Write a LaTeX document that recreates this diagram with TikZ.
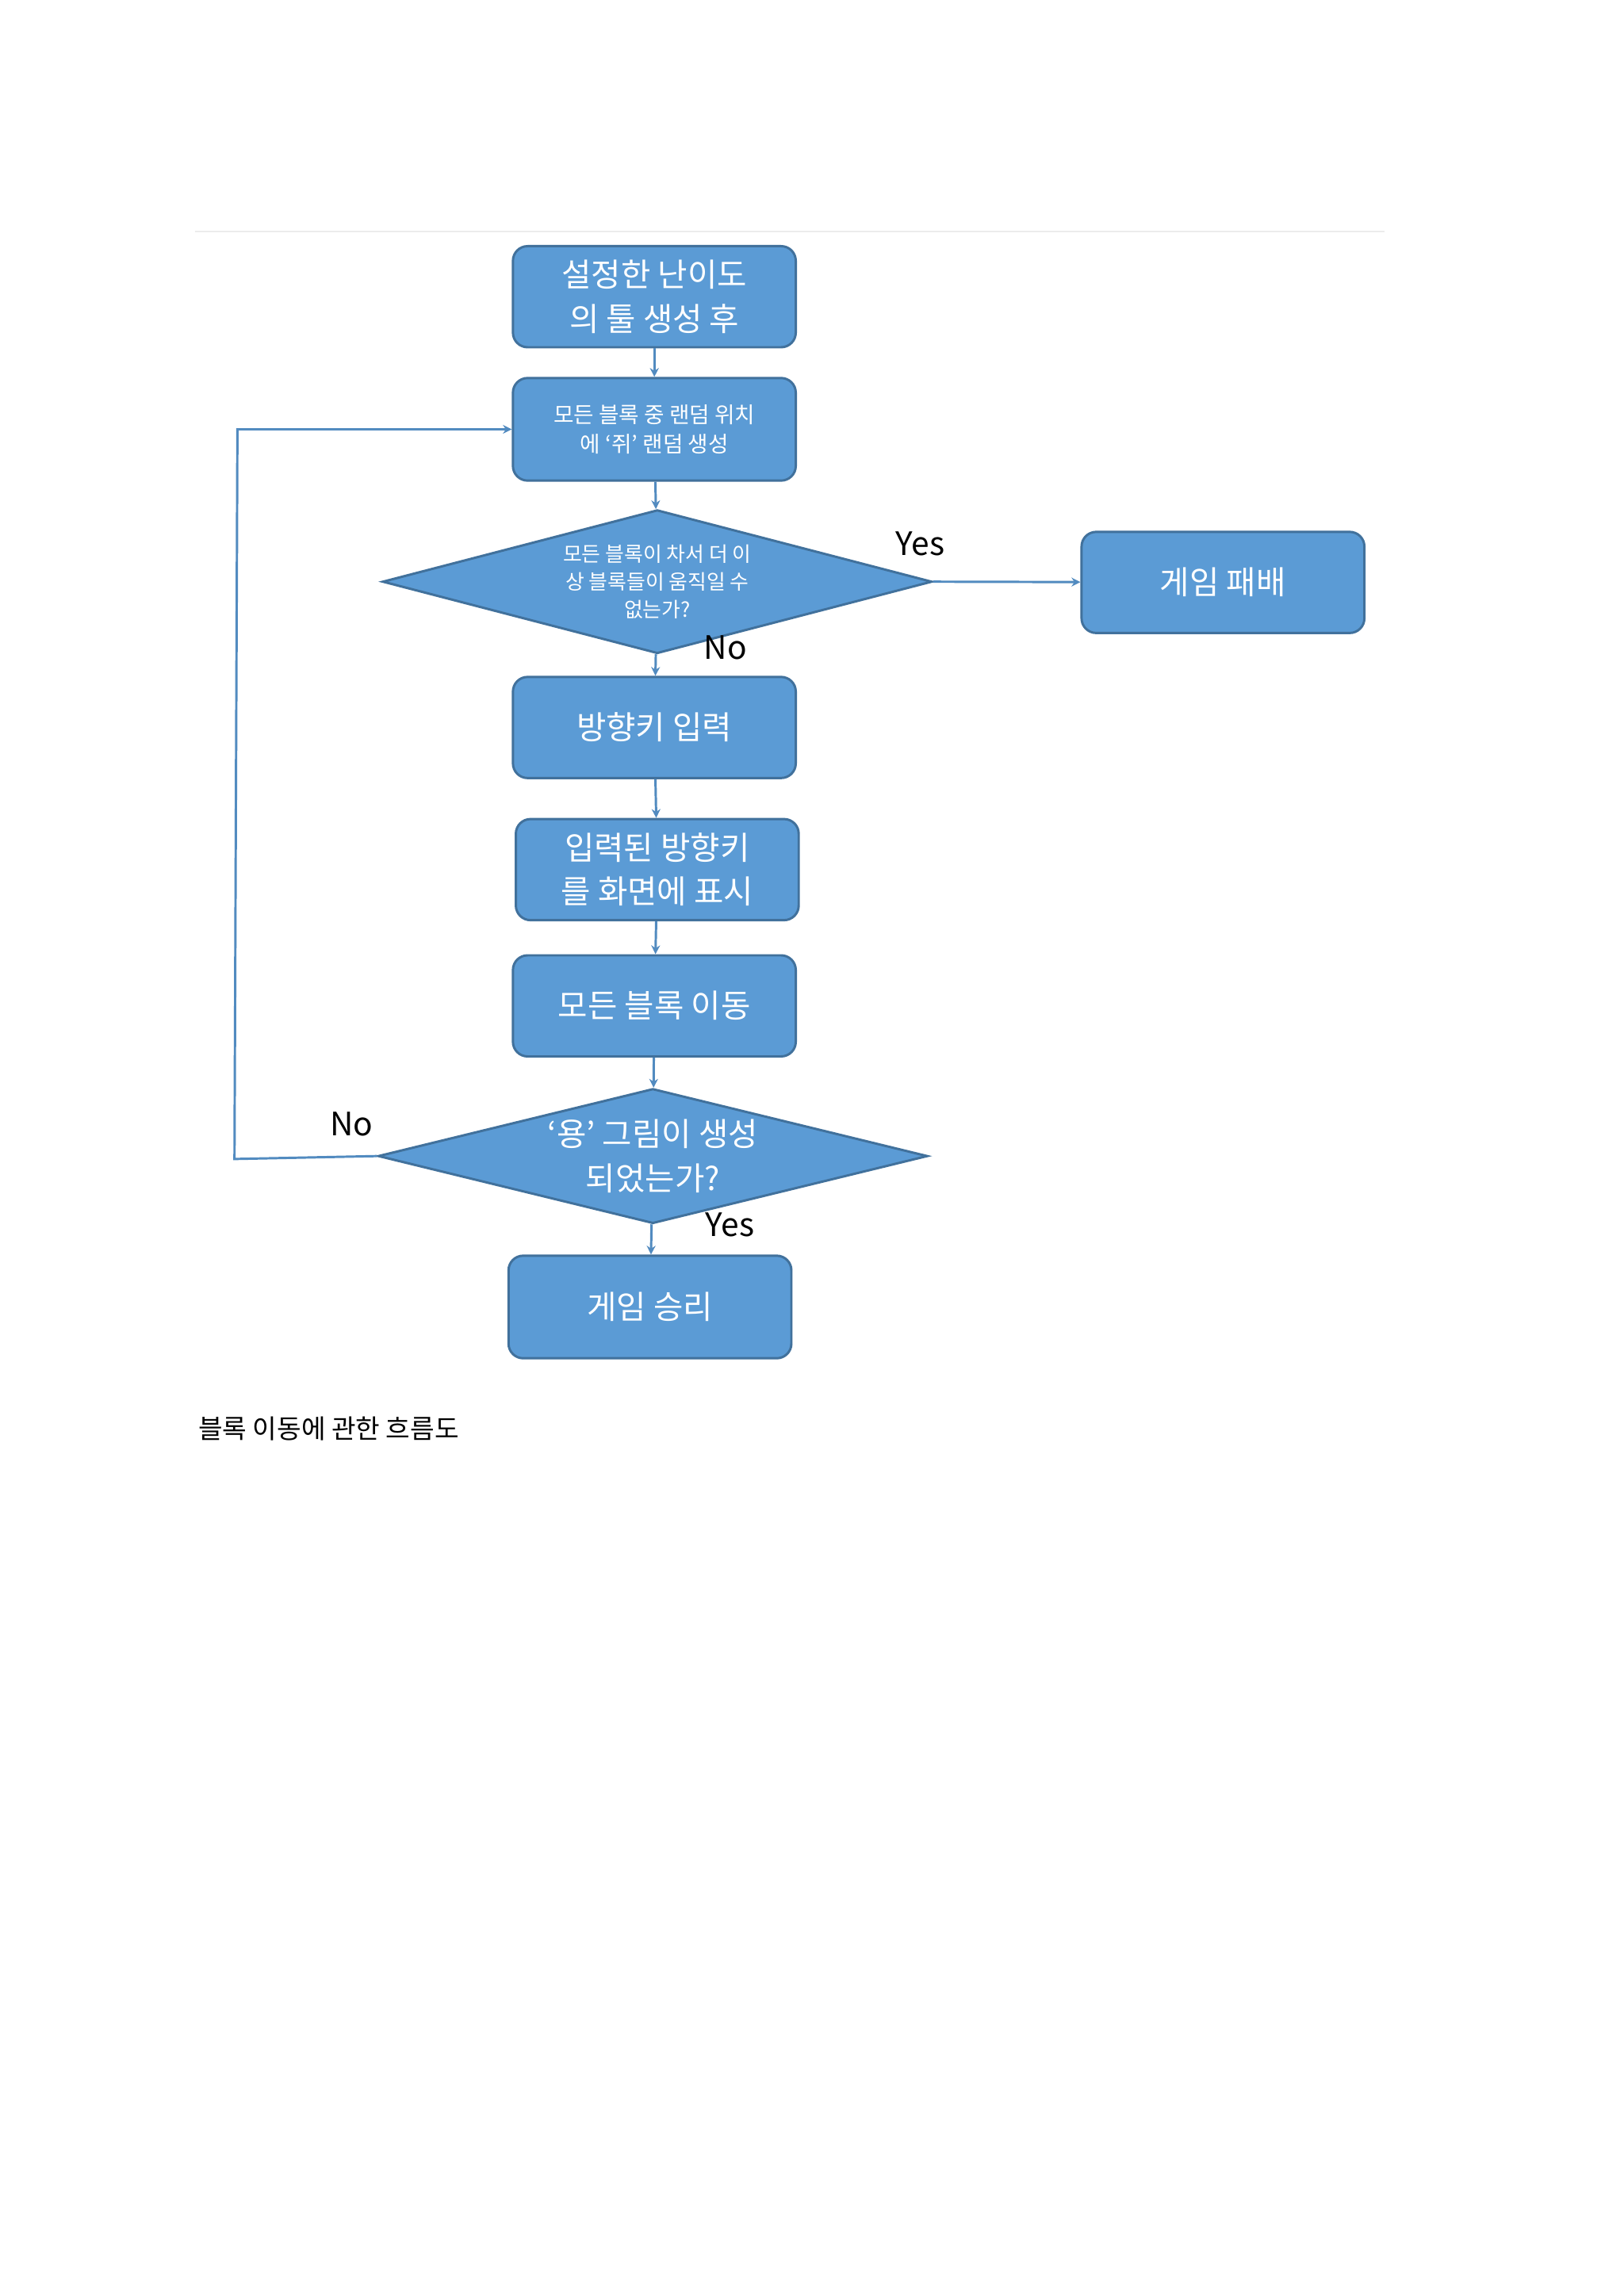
\documentclass[tikz,border=0pt]{standalone}
\usepackage{fontspec}
\setmainfont{Noto Sans CJK KR}
\usetikzlibrary{shapes.geometric,arrows.meta}
\definecolor{bfill}{HTML}{5B9BD5}
\definecolor{bline}{HTML}{41719C}
\begin{document}
\begin{tikzpicture}[x=0.5pt,y=-0.5pt,
  bx/.style={draw=bline,line width=0.8pt,fill=bfill,rounded corners=5pt,text=white,align=center,inner sep=0pt},
  dm/.style={draw=bline,line width=0.8pt,fill=bfill,text=white,align=center,inner sep=0pt},
  ar/.style={draw=bfill!90!black,line width=0.8pt,-{Stealth[length=3pt,width=3pt]}},
  lb/.style={font=\fontsize{11}{13}\selectfont,inner sep=0pt}]
\useasboundingbox (0,0) rectangle (1108,1567);
\fill[white] (0,0) rectangle (1108,1567);
\draw[gray!15,line width=0.6pt] (133,158) -- (945,158);
\node[bx,minimum width=96.5pt,minimum height=34.5pt,font=\fontsize{11}{15}\selectfont] (b1) at (446.5,202.5) {설정한 난이도\\의 툴 생성 후};
\node[bx,minimum width=96.5pt,minimum height=35pt,font=\fontsize{7.5}{10}\selectfont] (b2) at (446.5,293) {모든 블록 중 랜덤 위치\\에 ‘쥐’ 랜덤 생성};
\node[dm,diamond,minimum width=187.5pt,minimum height=49pt,aspect=3.8,font=\fontsize{7}{9.5}\selectfont] (d1) at (448.5,397) {};
\node[text=white,align=center,font=\fontsize{7}{9.5}\selectfont] at (448.5,397) {모든 블록이 차서 더 이\\상 블록들이 움직일 수\\없는가?};
\node[bx,minimum width=96.5pt,minimum height=34.5pt,font=\fontsize{11}{15}\selectfont] (lose) at (834.5,397.5) {게임 패배};
\node[bx,minimum width=96.5pt,minimum height=34.5pt,font=\fontsize{11}{15}\selectfont] (b3) at (446.5,496.5) {방향키 입력};
\node[bx,minimum width=96.5pt,minimum height=34.5pt,font=\fontsize{11}{15}\selectfont] (b4) at (448.5,593.5) {입력된 방향키\\를 화면에 표시};
\node[bx,minimum width=96.5pt,minimum height=34.5pt,font=\fontsize{11}{15}\selectfont] (b5) at (446.5,686.5) {모든 블록 이동};
\node[dm,diamond,minimum width=187.5pt,minimum height=46pt,aspect=4,font=\fontsize{11}{15}\selectfont] (d2) at (445.5,789) {};
\node[text=white,align=center,font=\fontsize{11}{15}\selectfont] at (445.5,789) {‘용’ 그림이 생성\\되었는가?};
\node[bx,minimum width=96.5pt,minimum height=35pt,font=\fontsize{11}{15}\selectfont] (win) at (443.5,892) {게임 승리};
\draw[ar] (b1) -- (b2);
\draw[ar] (b2) -- (d1);
\draw[ar] (d1) -- (b3);
\draw[ar] (d1.east) -- (lose);
\draw[ar] (b3) -- (b4);
\draw[ar] (b4) -- (b5);
\draw[ar] (b5) -- (d2);
\draw[ar] (d2) -- (win);
\coordinate (c1) at (160,791);
\coordinate (c2) at (162,293);
\draw[ar] (d2.west) -- (c1) -- (c2) -- (b2.west);
\node[lb] (y1) at (628,371) {Yes};
\node[lb] (n1) at (495,442) {No};
\node[lb] (n2) at (240,767) {No};
\node[lb] (y2) at (498,836) {Yes};
\node[anchor=west,font=\fontsize{9}{11}\selectfont,inner sep=0pt] (cap) at (135,975) {블록 이동에 관한 흐름도};
\end{tikzpicture}
\end{document}
